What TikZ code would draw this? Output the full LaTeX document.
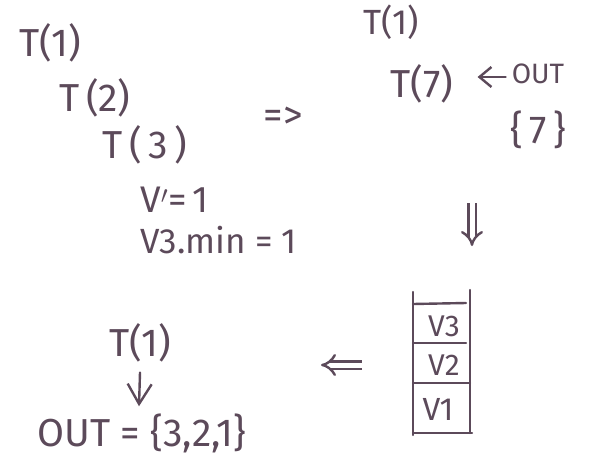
\documentclass[tikz,border=0pt]{standalone}
\usepackage{fontspec}
\setmainfont{Fira Sans}
\usetikzlibrary{arrows.meta,calc}
\definecolor{ink}{RGB}{92,74,90}
\tikzset{
  hw/.style={text=ink, inner sep=0pt, font=\fontsize{39}{42}\selectfont},
  hwmid/.style={hw, font=\fontsize{35}{38}\selectfont},
  hwsmall/.style={hw, font=\fontsize{28}{30}\selectfont},
  pen/.style={draw=ink, line width=2.4pt, line cap=round},
  barb/.style={-{Straight Barb[length=12pt,width=20pt,line width=2.4pt]}},
  bigbarb/.style={-{Straight Barb[length=20pt,width=24pt,line width=2.4pt]}},
  dblarrow/.style={draw=ink, line width=2.4pt, double distance=5pt, -{Implies[scale=1.5]}},
}
\begin{document}
\begin{tikzpicture}[x=1pt,y=-1pt]
\useasboundingbox (0,0) rectangle (589,461);
% left column
\node[hw] (t1) at (50,43) {T(1)};
\node[hw] (t2) at (95,98) {T\,(2)};
\node[hw] (t3) at (145,145) {T\,(\,3\,)};
\node[hw, font=\fontsize{37}{40}\selectfont, anchor=west] (vp) at (140,200) {V$'$=\,1};
\node[hwmid, anchor=west] (vmin) at (140,240) {V3.min = 1};
\node[hw] (imp) at (283,118) {=>};
% right column
\node[hwmid] (rt1) at (391,22) {T(1)};
\node[hw] (t7) at (422,84) {T(7)};
\node[hwsmall] (outr) at (538,74) {OUT};
\draw[pen, barb] ($(outr.west)+(-6,3)$) -- ($(t7.east)+(24,-7)$);
\node[hw] (set7) at (538,130) {\{\,7\,\}};
% down double arrow
\coordinate (d1) at (472,203);
\coordinate (d2) at (472,246);
\draw[dblarrow] (d1) -- (d2);
% stack
\coordinate (sl1) at (413,292);
\coordinate (sl2) at (413,435);
\coordinate (sr1) at (470,290);
\coordinate (sr2) at (470,433);
\draw[pen] (sl1) -- (sl2);
\draw[pen] (sr1) -- (sr2);
\draw[pen] (413,304) -- (466,303);
\draw[pen] (413,343) -- (466,343);
\draw[pen] (413,383) -- (470,383);
\draw[pen] (413,433) -- (472,433);
\node[hw, font=\fontsize{30}{32}\selectfont] (v3) at (444,326) {V3};
\node[hw, font=\fontsize{30}{32}\selectfont] (v2) at (444,365) {V2};
\node[hw, font=\fontsize{32}{34}\selectfont] (v1) at (438,409) {V1};
% left double arrow
\coordinate (l1) at (362,365);
\coordinate (l2) at (321,365);
\draw[dblarrow] (l1) -- (l2);
% bottom left
\node[hw] (bt1) at (140,343) {T(1)};
\node[hw] (bout) at (142,433) {OUT = \{3,2,1\}};
\draw[pen, bigbarb] ($(bt1.south)+(0,10)$) -- ($(bout.north)+(-3,-7)$);
\end{tikzpicture}
\end{document}
